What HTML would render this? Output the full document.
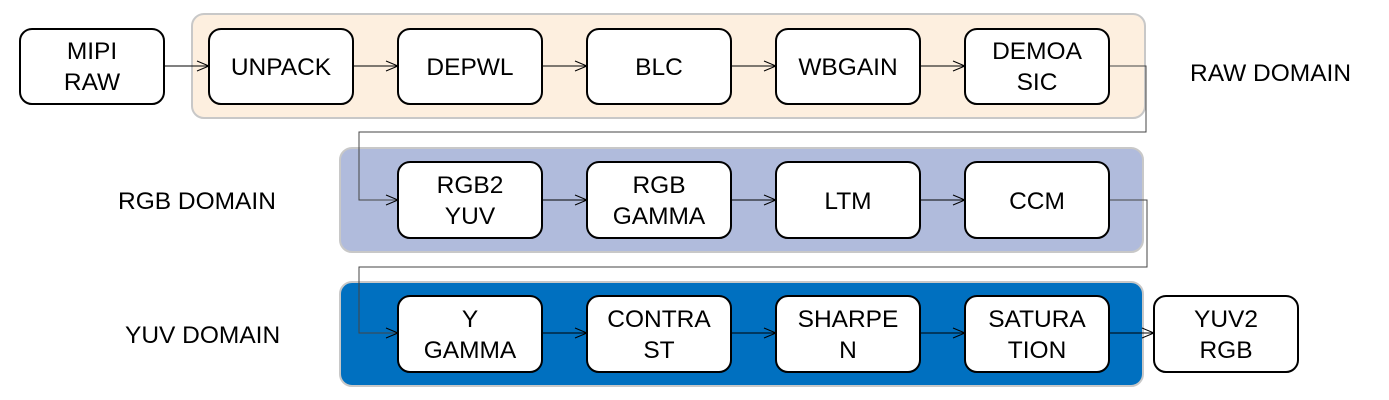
<!DOCTYPE html>
<html><head><meta charset="utf-8"><style>body{margin:0;background:#fff}svg{display:block}text{font-family:"Liberation Sans",Arial,sans-serif;font-size:24.5px;fill:#000}</style></head><body>
<svg width="1389" height="400" viewBox="0 0 1389 400" xmlns="http://www.w3.org/2000/svg">
<defs><marker id="a" markerWidth="14" markerHeight="12" refX="13" refY="6" orient="auto" markerUnits="userSpaceOnUse"><path d="M1,1 L13,6 L1,11" fill="none" stroke="#000" stroke-width="1"/></marker></defs>
<rect x="192" y="14" width="953" height="104" rx="12" fill="#fdefdf" stroke="#c8c8c8" stroke-width="2"/>
<rect x="340" y="148" width="803" height="104" rx="12" fill="#b0bbdc" stroke="#c8c8c8" stroke-width="2"/>
<rect x="340" y="282" width="803" height="104" rx="12" fill="#0070c0" stroke="#c8c8c8" stroke-width="2"/>
<g fill="none" stroke="#000" stroke-width="1">
<line x1="164" y1="66" x2="209" y2="66" marker-end="url(#a)"/>
<line x1="353" y1="66" x2="398" y2="66" marker-end="url(#a)"/>
<line x1="542" y1="66" x2="587" y2="66" marker-end="url(#a)"/>
<line x1="731" y1="66" x2="776" y2="66" marker-end="url(#a)"/>
<line x1="920" y1="66" x2="965" y2="66" marker-end="url(#a)"/>
<polyline points="1109,66 1146,66 1146,132 359,132 359,200 398,200" stroke="#444" marker-end="url(#a)"/>
<line x1="542" y1="200" x2="587" y2="200" marker-end="url(#a)"/>
<line x1="731" y1="200" x2="776" y2="200" marker-end="url(#a)"/>
<line x1="920" y1="200" x2="965" y2="200" marker-end="url(#a)"/>
<polyline points="1109,200 1147,200 1147,267 359,267 359,333 398,333" stroke="#444" marker-end="url(#a)"/>
<line x1="542" y1="333" x2="587" y2="333" marker-end="url(#a)"/>
<line x1="731" y1="333" x2="776" y2="333" marker-end="url(#a)"/>
<line x1="920" y1="333" x2="965" y2="333" marker-end="url(#a)"/>
<line x1="1109" y1="333" x2="1154" y2="333" marker-end="url(#a)"/>
</g>
<g fill="#fff" stroke="#000" stroke-width="2">
<rect x="20" y="29" width="144" height="75" rx="12"/>
<rect x="209" y="29" width="144" height="75" rx="12"/>
<rect x="398" y="29" width="144" height="75" rx="12"/>
<rect x="587" y="29" width="144" height="75" rx="12"/>
<rect x="776" y="29" width="144" height="75" rx="12"/>
<rect x="965" y="29" width="144" height="75" rx="12"/>
<rect x="398" y="162" width="144" height="76" rx="12"/>
<rect x="587" y="162" width="144" height="76" rx="12"/>
<rect x="776" y="162" width="144" height="76" rx="12"/>
<rect x="965" y="162" width="144" height="76" rx="12"/>
<rect x="398" y="296" width="144" height="76" rx="12"/>
<rect x="587" y="296" width="144" height="76" rx="12"/>
<rect x="776" y="296" width="144" height="76" rx="12"/>
<rect x="965" y="296" width="144" height="76" rx="12"/>
<rect x="1154" y="296" width="144" height="76" rx="12"/>
</g>
<g text-anchor="middle">
<text x="92" y="59">MIPI</text><text x="92" y="90">RAW</text>
<text x="281" y="75">UNPACK</text>
<text x="470" y="75">DEPWL</text>
<text x="659" y="75">BLC</text>
<text x="848" y="75">WBGAIN</text>
<text x="1037" y="59">DEMOA</text><text x="1037" y="90">SIC</text>
<text x="470" y="193">RGB2</text><text x="470" y="224">YUV</text>
<text x="659" y="193">RGB</text><text x="659" y="224">GAMMA</text>
<text x="848" y="209">LTM</text>
<text x="1037" y="209">CCM</text>
<text x="470" y="327">Y</text><text x="470" y="358">GAMMA</text>
<text x="659" y="327">CONTRA</text><text x="659" y="358">ST</text>
<text x="848" y="327">SHARPE</text><text x="848" y="358">N</text>
<text x="1037" y="327">SATURA</text><text x="1037" y="358">TION</text>
<text x="1226" y="327">YUV2</text><text x="1226" y="358">RGB</text>
</g>
<text x="1190" y="81">RAW DOMAIN</text>
<text x="118" y="209">RGB DOMAIN</text>
<text x="125" y="343">YUV DOMAIN</text>
</svg>
</body></html>
